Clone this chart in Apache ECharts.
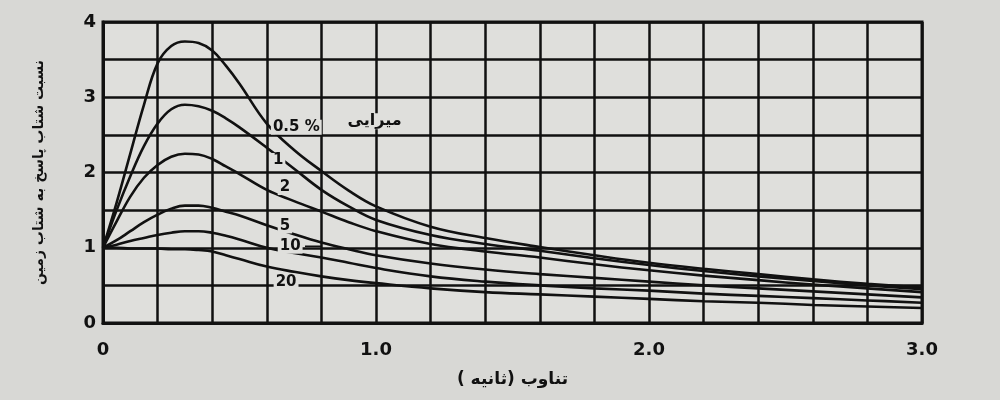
<!DOCTYPE html>
<html>
<head>
<meta charset="utf-8">
<script src="https://cdn.jsdelivr.net/npm/echarts@6/dist/echarts.min.js"></script>
<style>
html,body{margin:0;padding:0;background:#d8d8d5;}
#c{width:1000px;height:400px;}
</style>
</head>
<body>
<div id="c"></div>
<script>
// Period (s)
var periods = [0, 0.05, 0.1, 0.15, 0.2, 0.25, 0.3, 0.35, 0.4, 0.45, 0.5, 0.6, 0.7, 0.8, 0.9, 1.0, 1.2, 1.4, 1.6, 1.8, 2.0, 2.2, 2.4, 2.6, 2.8, 3.0];
// Damping 0.5 %
var damp05 = [1, 1.6, 2.25, 2.9, 3.45, 3.68, 3.74, 3.72, 3.62, 3.42, 3.18, 2.65, 2.3, 2.02, 1.76, 1.55, 1.28, 1.13, 1.01, 0.9, 0.8, 0.72, 0.65, 0.58, 0.52, 0.47];
// Damping 1 %
var damp1 = [1, 1.5, 1.95, 2.35, 2.65, 2.84, 2.9, 2.88, 2.82, 2.72, 2.6, 2.33, 2.05, 1.77, 1.55, 1.37, 1.17, 1.05, 0.96, 0.86, 0.77, 0.69, 0.62, 0.56, 0.5, 0.45];
// Damping 2 %
var damp2 = [1, 1.35, 1.68, 1.93, 2.1, 2.21, 2.25, 2.24, 2.18, 2.08, 1.98, 1.77, 1.62, 1.48, 1.34, 1.22, 1.05, 0.95, 0.87, 0.78, 0.7, 0.63, 0.57, 0.51, 0.46, 0.41];
// Damping 5 %
var damp5 = [1, 1.1, 1.22, 1.34, 1.44, 1.52, 1.56, 1.56, 1.53, 1.48, 1.43, 1.3, 1.18, 1.07, 0.98, 0.9, 0.79, 0.71, 0.65, 0.6, 0.55, 0.5, 0.46, 0.42, 0.38, 0.34];
// Damping 10 %
var damp10 = [1, 1.04, 1.09, 1.13, 1.17, 1.2, 1.22, 1.22, 1.2, 1.16, 1.11, 1.0, 0.93, 0.87, 0.8, 0.73, 0.62, 0.55, 0.5, 0.46, 0.43, 0.39, 0.36, 0.33, 0.3, 0.27];
// Damping 20 %
var damp20 = [1, 1.0, 0.99, 0.99, 0.99, 0.98, 0.98, 0.97, 0.95, 0.9, 0.85, 0.75, 0.68, 0.62, 0.57, 0.53, 0.46, 0.41, 0.38, 0.35, 0.32, 0.29, 0.27, 0.24, 0.22, 0.2];

var seriesNames = ['0.5 %', '1', '2', '5', '10', '20'];
var seriesData = [damp05, damp1, damp2, damp5, damp10, damp20];

// Curve label texts and anchor points (data units)
var curveLabels = [
  {text: '0.5 %', t: 0.615, v: 2.6},
  {text: '1', t: 0.615, v: 2.16},
  {text: '2', t: 0.64, v: 1.8},
  {text: '5', t: 0.64, v: 1.29},
  {text: '10', t: 0.64, v: 1.02},
  {text: '20', t: 0.625, v: 0.55}
];
var dampingTitle = 'میرایی';
var yName = '\u202Bنسبت شتاب پاسخ به شتاب زمین\u202C';
var xName = '\u202Bتناوب (ثانیه )\u202C';

var chart = echarts.init(document.getElementById('c'), null, {renderer: 'canvas'});

function xLabel(v) {
  if (Math.abs(v - Math.round(v)) > 1e-6) return '';
  return Math.round(v) === 0 ? '0' : Math.round(v).toFixed(1);
}
function yLabel(v) {
  if (Math.abs(v - Math.round(v)) > 1e-6) return '';
  return String(Math.round(v));
}

var series = seriesNames.map(function (n, i) {
  return {
    name: n,
    type: 'line',
    smooth: 0.4,
    symbol: 'none',
    lineStyle: {color: '#111', width: 2.6},
    data: periods.map(function (t, k) { return [t, seriesData[i][k]]; }),
    z: 3
  };
});

chart.setOption({
  backgroundColor: '#d8d8d5',
  animation: false,
  grid: {
    left: 103, right: 78, top: 22, bottom: 77,
    show: true, backgroundColor: '#dfdfdc', borderColor: '#111', borderWidth: 3
  },
  xAxis: {
    type: 'value', min: 0, max: 3, interval: 0.2,
    name: xName, nameLocation: 'middle', nameGap: 48,
    nameTextStyle: {fontFamily: 'DejaVu Sans', fontWeight: 'bold', fontSize: 17, color: '#111'},
    axisLine: {show: true, lineStyle: {color: '#111', width: 3}},
    axisTick: {show: false},
    splitLine: {show: true, lineStyle: {color: '#111', width: 2.5}},
    axisLabel: {formatter: xLabel, margin: 18, fontFamily: 'DejaVu Sans', fontWeight: 'bold', fontSize: 18, color: '#111', showMaxLabel: true, showMinLabel: true}
  },
  yAxis: {
    type: 'value', min: 0, max: 4, interval: 0.5,
    name: yName, nameLocation: 'middle', nameGap: 57, nameRotate: 90,
    nameTextStyle: {fontFamily: 'DejaVu Sans', fontWeight: 'bold', fontSize: 14, color: '#111'},
    axisLine: {show: true, lineStyle: {color: '#111', width: 3}},
    axisTick: {show: false},
    splitLine: {show: true, lineStyle: {color: '#111', width: 2.5}},
    axisLabel: {formatter: yLabel, margin: 7, fontFamily: 'DejaVu Sans', fontWeight: 'bold', fontSize: 18, color: '#111'}
  },
  series: series
});

function placeLabels() {
  var g = [];
  curveLabels.forEach(function (l) {
    var p = chart.convertToPixel({gridIndex: 0}, [l.t, l.v]);
    g.push({
      type: 'text', x: p[0], y: p[1], z: 10,
      style: {text: l.text, fill: '#111', font: 'bold 15px "DejaVu Sans"', align: 'left', verticalAlign: 'middle',
              backgroundColor: '#dfdfdc', padding: [0, 2]}
    });
  });
  var first = curveLabels[0];
  var pt = chart.convertToPixel({gridIndex: 0}, [first.t + 0.27, first.v + 0.08]);
  g.push({
    type: 'text', x: pt[0], y: pt[1], z: 10,
    style: {text: dampingTitle, fill: '#111', font: 'bold 16px "DejaVu Sans"', align: 'left', verticalAlign: 'middle',
            backgroundColor: '#dfdfdc', padding: [0, 3]}
  });
  var ten = curveLabels[4];
  var a = chart.convertToPixel({gridIndex: 0}, [ten.t + 0.1, ten.v]);
  var b = chart.convertToPixel({gridIndex: 0}, [ten.t + 0.16, ten.v]);
  g.push({type: 'line', z: 9, shape: {x1: a[0], y1: a[1], x2: b[0], y2: b[1]}, style: {stroke: '#111', lineWidth: 1.5}});
  chart.setOption({graphic: g});
}
placeLabels();
</script>
</body>
</html>
